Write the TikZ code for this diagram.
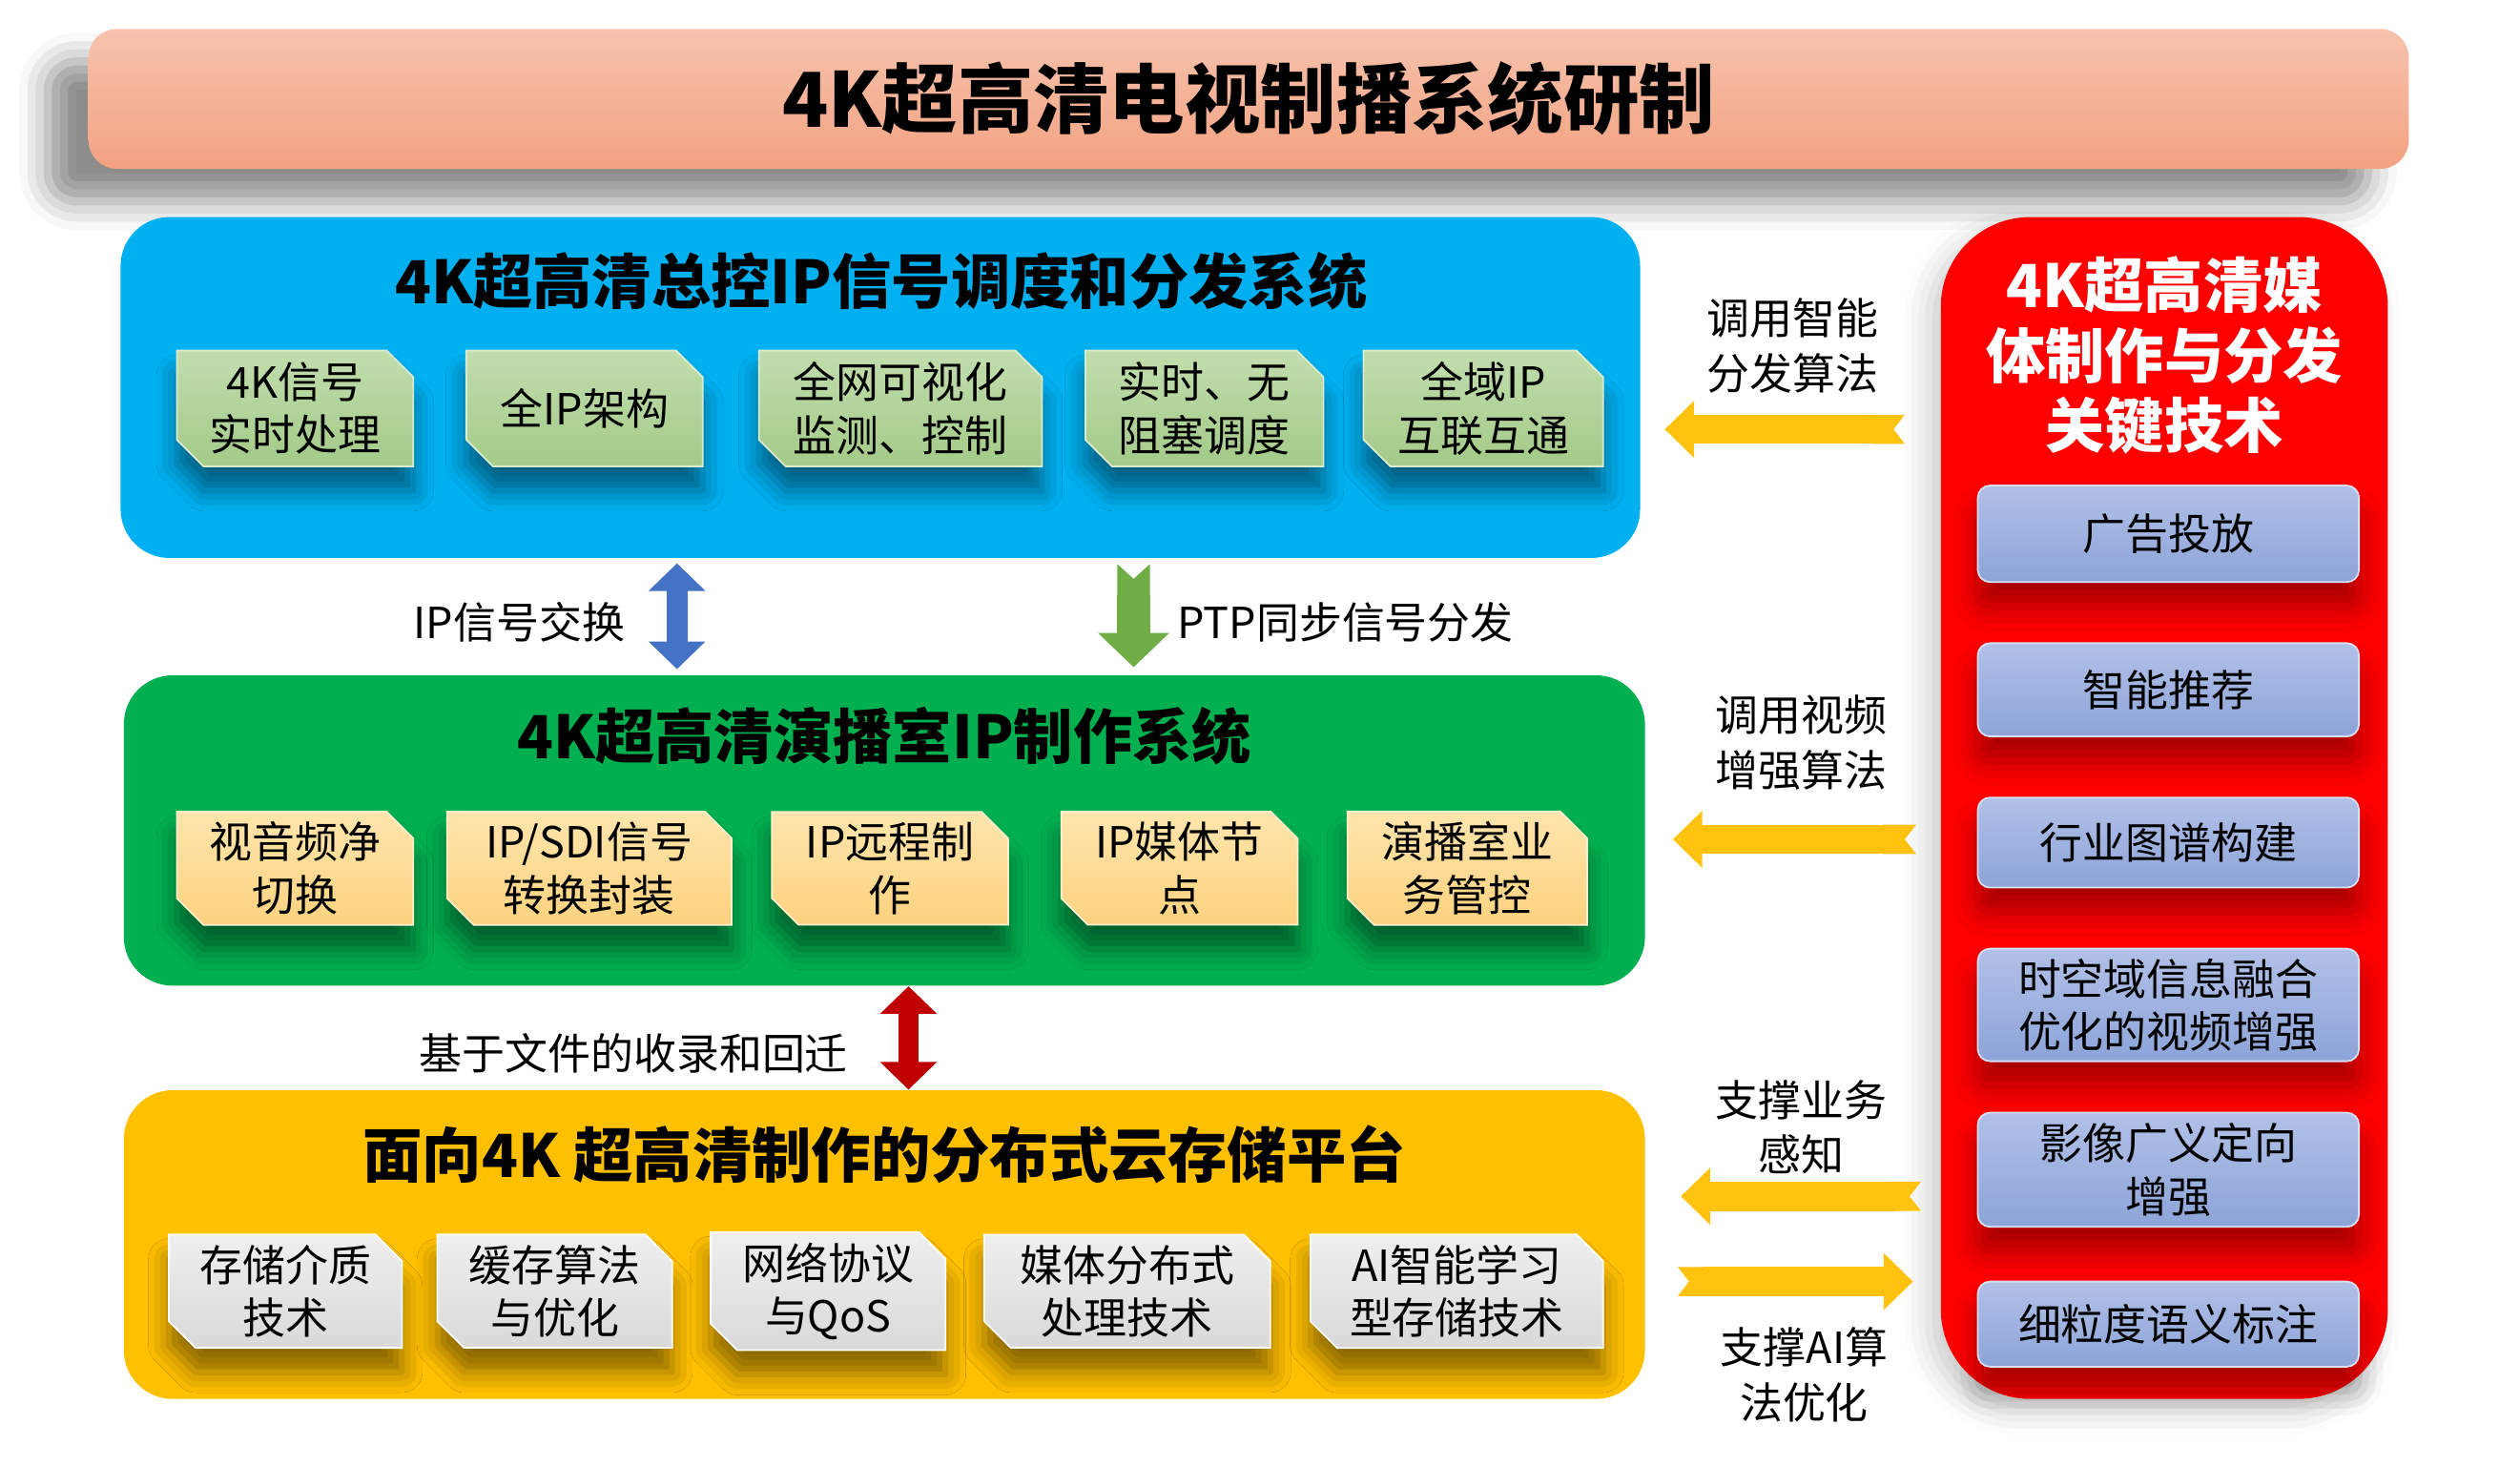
\documentclass[tikz,border=0pt]{standalone}
\usepackage{fontspec}
\setmainfont{Noto Sans CJK SC}
\usepackage{tikz}
\usetikzlibrary{arrows.meta,shapes.misc,shadows.blur}
\usetikzlibrary{positioning}

\newlength\unitlen
\setlength\unitlen{0.01978cm}

\definecolor{titletop}{HTML}{F6C3AD}
\definecolor{titlebot}{HTML}{F3A281}
\definecolor{ctrlblue}{HTML}{00B0F0}
\definecolor{studiogreen}{HTML}{00B050}
\definecolor{cloudyellow}{HTML}{FFC000}
\definecolor{mediared}{HTML}{FF0000}
\definecolor{leaftop}{HTML}{C2DDAE}
\definecolor{leafbot}{HTML}{A3CA88}
\definecolor{tantop}{HTML}{FFE5AC}
\definecolor{tanbot}{HTML}{FCD27F}
\definecolor{greytop}{HTML}{EFEFEF}
\definecolor{greybot}{HTML}{D9D9D9}
\definecolor{lilactop}{HTML}{B1C0E7}
\definecolor{lilacbot}{HTML}{8DA4D9}
\definecolor{arrowyellow}{HTML}{FFC20E}
\definecolor{arrowblue}{HTML}{4472C4}
\definecolor{arrowgreen}{HTML}{70AD47}
\definecolor{arrowred}{HTML}{C00000}

\tikzstyle{titlebar} = [rectangle, rounded corners=0.35cm, top color=titletop, bottom color=titlebot, font=\fontsize{26.5}{32}\selectfont\bfseries, blur shadow={shadow xshift=-0.5cm, shadow yshift=-0.4cm, shadow blur radius=0.35cm, shadow opacity=45}]
\tikzstyle{bigbox} = [rectangle, rounded corners=0.6cm, inner sep=0pt]
\tikzstyle{headline} = [font=\fontsize{20.8}{24.5}\selectfont\bfseries, align=center]
\tikzstyle{subbox} = [chamfered rectangle, chamfered rectangle corners={north east,south west}, chamfered rectangle xsep=0.2cm, inner sep=0pt, align=center, font=\fontsize{15}{18.5}\selectfont, line width=0.6pt, blur shadow={shadow xshift=0cm, shadow yshift=-0.3cm, shadow blur radius=0.25cm, shadow opacity=45}]
\tikzstyle{ctrlsub} = [subbox, top color=leaftop, bottom color=leafbot, draw=leaftop!60!white]
\tikzstyle{studiosub} = [subbox, top color=tantop, bottom color=tanbot, draw=tantop!60!white]
\tikzstyle{cloudsub} = [subbox, top color=greytop, bottom color=greybot, draw=white]
\tikzstyle{mediasub} = [rectangle, rounded corners=0.15cm, top color=lilactop, bottom color=lilacbot, draw=lilactop!50!white, line width=0.6pt, align=center, font=\fontsize{15}{18.5}\selectfont, minimum width=237\unitlen, blur shadow={shadow xshift=0cm, shadow yshift=-0.3cm, shadow blur radius=0.3cm, shadow opacity=35}]
\tikzstyle{note} = [font=\fontsize{15}{19.3}\selectfont, align=center]
\tikzstyle{yarrow} = [draw=arrowyellow, line width=0.36cm, {Triangle Cap[reversed,length=0.14cm]}-{Triangle[length=0.36cm,width=0.68cm]}]
\tikzstyle{dblarrow} = [line width=0.26cm, {Triangle[length=0.34cm,width=0.68cm]}-{Triangle[length=0.34cm,width=0.68cm]}]

\begin{document}
\begin{tikzpicture}[x=0.01978cm, y=-0.01978cm]
\useasboundingbox (0,0) rectangle (1567.2,911.2);

  \node (title) [titlebar, minimum width=1443\unitlen, minimum height=87\unitlen] at (776.5,61.5) {4K超高清电视制播系统研制};

  \node (ctrl) [bigbox, fill=ctrlblue, minimum width=945\unitlen, minimum height=212\unitlen] at (547.5,241) {};
  \node (ctrlhead) [headline] at (548,175) {4K超高清总控IP信号调度和分发系统};
  \node (c1) [ctrlsub, minimum width=147\unitlen, minimum height=72\unitlen] at (183.5,254) {4K信号\\实时处理};
  \node (c2) [ctrlsub, minimum width=147\unitlen, minimum height=72\unitlen] at (363.5,254) {全IP架构};
  \node (c3) [ctrlsub, minimum width=176\unitlen, minimum height=72\unitlen] at (560,254) {全网可视化\\监测、控制};
  \node (c4) [ctrlsub, minimum width=148\unitlen, minimum height=72\unitlen] at (749,254) {实时、无\\阻塞调度};
  \node (c5) [ctrlsub, minimum width=149\unitlen, minimum height=72\unitlen] at (922.5,254) {全域IP\\互联互通};

  \node (studio) [bigbox, fill=studiogreen, minimum width=946\unitlen, minimum height=193\unitlen] at (550,516.5) {};
  \node (studiohead) [headline] at (550,458) {4K超高清演播室IP制作系统};
  \node (s1) [studiosub, minimum width=147\unitlen, minimum height=70\unitlen] at (183.5,540) {视音频净\\切换};
  \node (s2) [studiosub, minimum width=177\unitlen, minimum height=70\unitlen] at (366.5,540) {IP/SDI信号\\转换封装};
  \node (s3) [studiosub, minimum width=147\unitlen, minimum height=70\unitlen] at (553.5,540) {IP远程制\\作};
  \node (s4) [studiosub, minimum width=147\unitlen, minimum height=70\unitlen] at (733.5,540) {IP媒体节\\点};
  \node (s5) [studiosub, minimum width=149\unitlen, minimum height=70\unitlen] at (912.5,540) {演播室业\\务管控};

  \node (cloud) [bigbox, fill=cloudyellow, minimum width=946\unitlen, minimum height=192\unitlen] at (550,774) {};
  \node (cloudhead) [headline] at (550,718) {面向4K 超高清制作的分布式云存储平台};
  \node (g1) [cloudsub, minimum width=145\unitlen, minimum height=70\unitlen] at (177.5,803) {存储介质\\技术};
  \node (g2) [cloudsub, minimum width=146\unitlen, minimum height=70\unitlen] at (345,803) {缓存算法\\与优化};
  \node (g3) [cloudsub, minimum width=146\unitlen, minimum height=70\unitlen] at (515,803) {网络协议\\与QoS};
  \node (g4) [cloudsub, minimum width=178\unitlen, minimum height=70\unitlen] at (701,803) {媒体分布式\\处理技术};
  \node (g5) [cloudsub, minimum width=182\unitlen, minimum height=70\unitlen] at (906,803) {AI智能学习\\型存储技术};

  \node (media) [bigbox, rounded corners=1.1cm, fill=mediared, minimum width=278\unitlen, minimum height=735\unitlen, blur shadow={shadow xshift=-0.15cm, shadow yshift=-0.15cm, shadow blur radius=0.3cm, shadow opacity=20}] at (1346,502.5) {};
  \node (mediahead) [headline, text=white] at (1346,221) {4K超高清媒\\体制作与分发\\关键技术};
  \node (m1) [mediasub, minimum height=60\unitlen] at (1348.5,332) {广告投放};
  \node (m2) [mediasub, minimum height=58\unitlen] at (1348.5,429) {智能推荐};
  \node (m3) [mediasub, minimum height=56\unitlen] at (1348.5,524) {行业图谱构建};
  \node (m4) [mediasub, minimum height=70\unitlen] at (1348.5,625) {时空域信息融合\\优化的视频增强};
  \node (m5) [mediasub, minimum height=71\unitlen] at (1348.5,727.5) {影像广义定向\\增强};
  \node (m6) [mediasub, minimum height=53\unitlen] at (1348.5,823.5) {细粒度语义标注};

  \coordinate (ipx) at (421,380);
  \coordinate (ptpx) at (705,380);
  \coordinate (filex) at (565,645);
  \draw[dblarrow, draw=arrowblue, shorten <=3\unitlen, shorten >=3.5\unitlen] (ctrl.south -| ipx) -- (studio.north -| ipx);
  \draw[line width=0.4cm, draw=arrowgreen, {Triangle Cap[reversed,length=0.18cm]}-{Triangle[length=0.42cm,width=0.85cm]}, shorten <=3.5\unitlen, shorten >=4.7\unitlen] (ctrl.south -| ptpx) -- (studio.north -| ptpx);
  \draw[dblarrow, draw=arrowred, line width=0.25cm] (studio.south -| filex) -- (cloud.north -| filex);
  \node (ipnote) [note] at (323,387) {IP信号交换};
  \node (ptpnote) [note, anchor=west] at (726,387) {PTP同步信号分发};
  \node (filenote) [note] at (394,655) {基于文件的收录和回迁};

  \coordinate (a1) at (1100,267);
  \coordinate (a2) at (1100,522);
  \coordinate (a3) at (1100,744);
  \coordinate (a4) at (1100,797);
  \draw[yarrow, shorten <=22\unitlen, shorten >=15\unitlen] (media.west |- a1) -- (ctrl.east |- a1);
  \draw[yarrow, shorten <=15\unitlen, shorten >=17\unitlen] (media.west |- a2) -- (studio.east |- a2);
  \draw[yarrow, shorten <=12\unitlen, shorten >=22\unitlen] (media.west |- a3) -- (cloud.east |- a3);
  \draw[yarrow, shorten <=20\unitlen, shorten >=17\unitlen] (cloud.east |- a4) -- (media.west |- a4);
  \node (n1) [note] at (1115,215) {调用智能\\分发算法};
  \node (n2) [note] at (1120,462) {调用视频\\增强算法};
  \node (n3) [note] at (1120,701) {支撑业务\\感知};
  \node (n4) [note] at (1122,855) {支撑AI算\\法优化};
\end{tikzpicture}
\end{document}
